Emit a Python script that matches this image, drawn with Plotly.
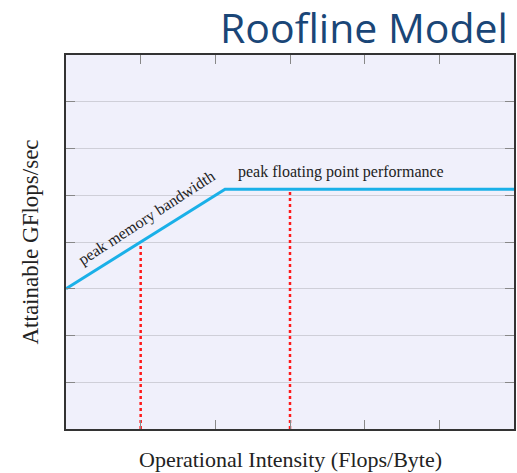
import plotly.graph_objects as go

# Roofline data (arbitrary units)
roof_x = [0, 2.13, 6]
roof_y = [3, 5.13, 5.13]
probe_x = [1, 3]
probe_y = [4, 5.13]
x_ticks = [0, 1, 2, 3, 4, 5, 6]
y_ticks = [0, 1, 2, 3, 4, 5, 6, 7, 8]

fig = go.Figure()
for px, py in zip(probe_x, probe_y):
    fig.add_trace(go.Scatter(x=[px, px], y=[0, py], mode="lines",
                             line=dict(color="#ff1a1a", width=2.5, dash="dot"),
                             hoverinfo="skip", showlegend=False))
fig.add_trace(go.Scatter(x=roof_x, y=roof_y, mode="lines",
                         line=dict(color="#1ab0e8", width=3),
                         showlegend=False))

serif = "Liberation Serif, Times New Roman, serif"
fig.add_annotation(x=1.08, y=4.52, text="peak memory bandwidth", showarrow=False,
                   textangle=-33, font=dict(family=serif, size=16, color="#222"))
fig.add_annotation(x=3.68, y=5.5, text="peak floating point performance", showarrow=False,
                   font=dict(family=serif, size=16, color="#222"))
fig.add_annotation(xref="paper", yref="paper", x=0.5, y=0, yshift=-45,
                   text="Operational Intensity (Flops/Byte)", showarrow=False,
                   font=dict(family=serif, size=22, color="#222"))
fig.add_annotation(xref="paper", yref="paper", x=0, y=0.5, xshift=-51,
                   text="Attainable GFlops/sec", showarrow=False, textangle=-90,
                   font=dict(family=serif, size=23, color="#222"))
fig.add_annotation(xref="paper", yref="paper", x=1, y=1, xanchor="right", yanchor="bottom",
                   xshift=-4, yshift=-2,
                   text="Roofline Model", showarrow=False,
                   font=dict(family="Open Sans", size=41, color="#1a4677"))

axis_common = dict(showline=True, linecolor="#333", linewidth=1.5, mirror="ticks",
                   ticks="inside", ticklen=9, tickcolor="#888", showticklabels=False,
                   zeroline=False)
fig.update_xaxes(range=[0, 6], tickvals=x_ticks, showgrid=False, **axis_common)
fig.update_yaxes(range=[0, 8], tickvals=y_ticks, showgrid=True, gridcolor="#cfcfd8",
                 gridwidth=1, **axis_common)
fig.update_layout(width=517, height=473, paper_bgcolor="white", plot_bgcolor="#f0f0fb",
                  margin=dict(l=66, r=1, t=55, b=44))
fig.write_html("out.html", config={"displayModeBar": False},
               post_script="document.body.style.margin='0';document.body.style.overflow='hidden';")
